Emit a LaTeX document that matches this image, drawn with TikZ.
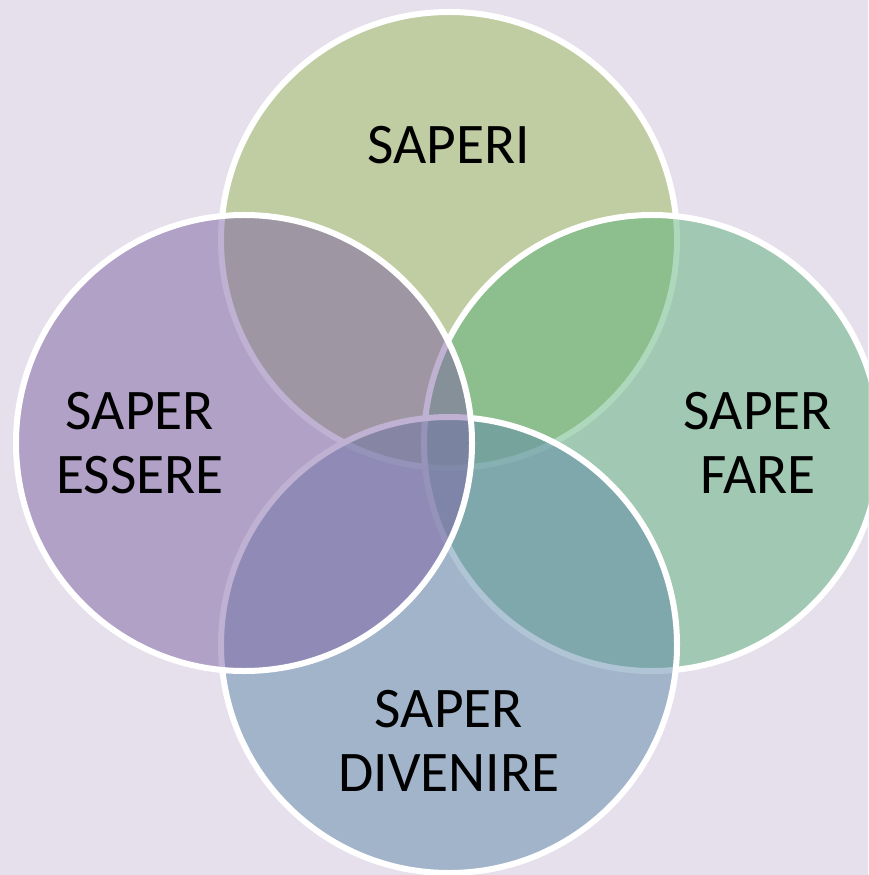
\documentclass[tikz,border=0pt]{standalone}
\usepackage{fontspec}
\setmainfont{Carlito}
\usetikzlibrary{positioning}

\definecolor{bgcol}{RGB}{230,224,236}
\definecolor{saperigreen}{RGB}{156,186,90}
\definecolor{farecol}{RGB}{92,178,122}
\definecolor{esserecol}{RGB}{126,100,164}
\definecolor{divenirecol}{RGB}{96,138,170}

\tikzset{
  venn/.style={circle, draw=white, line width=0.18cm, fill opacity=0.5,
    draw opacity=1, minimum size=13.68cm, inner sep=0pt},
  venntext/.style={align=center, font=\fontsize{49}{55}\selectfont, text=black}
}

\begin{document}
\begin{tikzpicture}[x=0.03cm, y=-0.03cm]
    % Background and size of the picture
    \fill[bgcol] (0,0) rectangle (868,875);
    \useasboundingbox (0,0) rectangle (868,875);

    % Centres of the four circles
    \coordinate (T) at (449,240);
    \coordinate (R) at (652,443);
    \coordinate (B) at (449,645);
    \coordinate (L) at (244,443);

    % Draw the circles, one over the other
    \node[venn, fill=saperigreen] (saperi) at (T) {};
    \node[venn, fill=farecol] (fare) at (R) {};
    \node[venn, fill=divenirecol] (divenire) at (B) {};
    \node[venn, fill=esserecol] (essere) at (L) {};

    % Provide the labels
    \node[venntext] (tsaperi) at (449,145) {SAPERI};
    \node[venntext] (tfare) at (758,443) {SAPER\\FARE};
    \node[venntext] (tdivenire) at (449,741) {SAPER\\DIVENIRE};
    \node[venntext] (tessere) at (140,443) {SAPER\\ESSERE};
\end{tikzpicture}
\end{document}
